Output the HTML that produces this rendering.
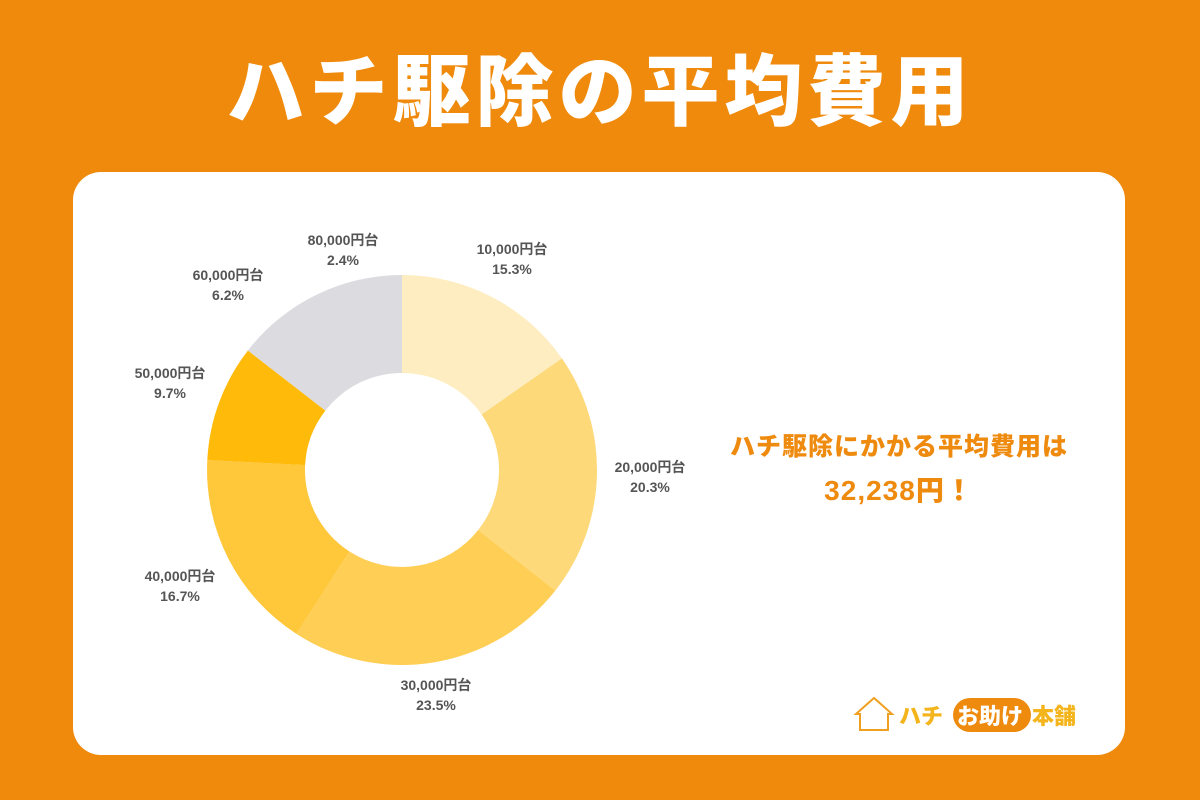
<!DOCTYPE html>
<html><head><meta charset="utf-8"><style>
body{margin:0;width:1200px;height:800px;background:#EF8A0C;overflow:hidden;font-family:"Liberation Sans","Noto Sans CJK JP",sans-serif;position:relative}
.title{position:absolute;top:42px;left:0;width:1200px;text-align:center;color:#fff;font-weight:900;font-size:78px;letter-spacing:5px;line-height:100px}
.card{position:absolute;left:73px;top:172px;width:1052px;height:583px;background:#fff;border-radius:28px}
svg{position:absolute;left:0;top:0}
.lab{position:absolute;transform:translateX(-50%);text-align:center;color:#555;font-weight:bold;font-size:14px;line-height:20px;white-space:nowrap}
.msg{position:absolute;left:899px;transform:translateX(-50%);color:#EE8A0E;font-weight:900;white-space:nowrap}
.lg{position:absolute;top:702px;font-size:22px;font-weight:900;color:#F3B41C;white-space:nowrap;line-height:30px}
</style></head><body>
<div class="title">ハチ駆除の平均費用</div>
<div class="card"></div>
<svg width="1200" height="800">
<path d="M402,275 A195,195 0 0 1 561.9,358.4 L481.6,414.5 A97,97 0 0 0 402,373Z" fill="#FDEDC0"/>
<path d="M561.9,358.4 A195,195 0 0 1 555.3,590.6 L478.2,530 A97,97 0 0 0 481.6,414.5Z" fill="#FDD97A"/>
<path d="M555.3,590.6 A195,195 0 0 1 296.4,633.9 L349.5,551.5 A97,97 0 0 0 478.2,530Z" fill="#FFCE55"/>
<path d="M296.4,633.9 A195,195 0 0 1 207.3,460.1 L305.1,465.1 A97,97 0 0 0 349.5,551.5Z" fill="#FFC73A"/>
<path d="M207.3,460.1 A195,195 0 0 1 247.9,350.5 L325.4,410.6 A97,97 0 0 0 305.1,465.1Z" fill="#FFBA0A"/>
<path d="M247.9,350.5 A195,195 0 0 1 402,275 L402,373 A97,97 0 0 0 325.4,410.6Z" fill="#DCDBE0"/>
<path d="M856,714 L874,698 L892,714 L888,714 L888,730 L860,730 L860,714Z" fill="#fff" stroke="#F0A020" stroke-width="2"/>
<rect x="953" y="698" width="78" height="34" rx="17" fill="#EE8A0E"/>
</svg>
<div class="lab" style="left:343px;top:230px">80,000円台<br>2.4%</div>
<div class="lab" style="left:512px;top:239px">10,000円台<br>15.3%</div>
<div class="lab" style="left:228px;top:265px">60,000円台<br>6.2%</div>
<div class="lab" style="left:170px;top:363px">50,000円台<br>9.7%</div>
<div class="lab" style="left:650px;top:457px">20,000円台<br>20.3%</div>
<div class="lab" style="left:180px;top:566px">40,000円台<br>16.7%</div>
<div class="lab" style="left:436px;top:675px">30,000円台<br>23.5%</div>
<div class="msg" style="top:427px;font-size:25px;letter-spacing:1px">ハチ駆除にかかる平均費用は</div>
<div class="msg" style="top:469px;font-size:28px;letter-spacing:1px">32,238円！</div>
<div class="lg" style="left:899px">ハチ</div>
<div class="lg" style="left:957px;color:#fff">お助け</div>
<div class="lg" style="left:1032px">本舗</div>
</body></html>
